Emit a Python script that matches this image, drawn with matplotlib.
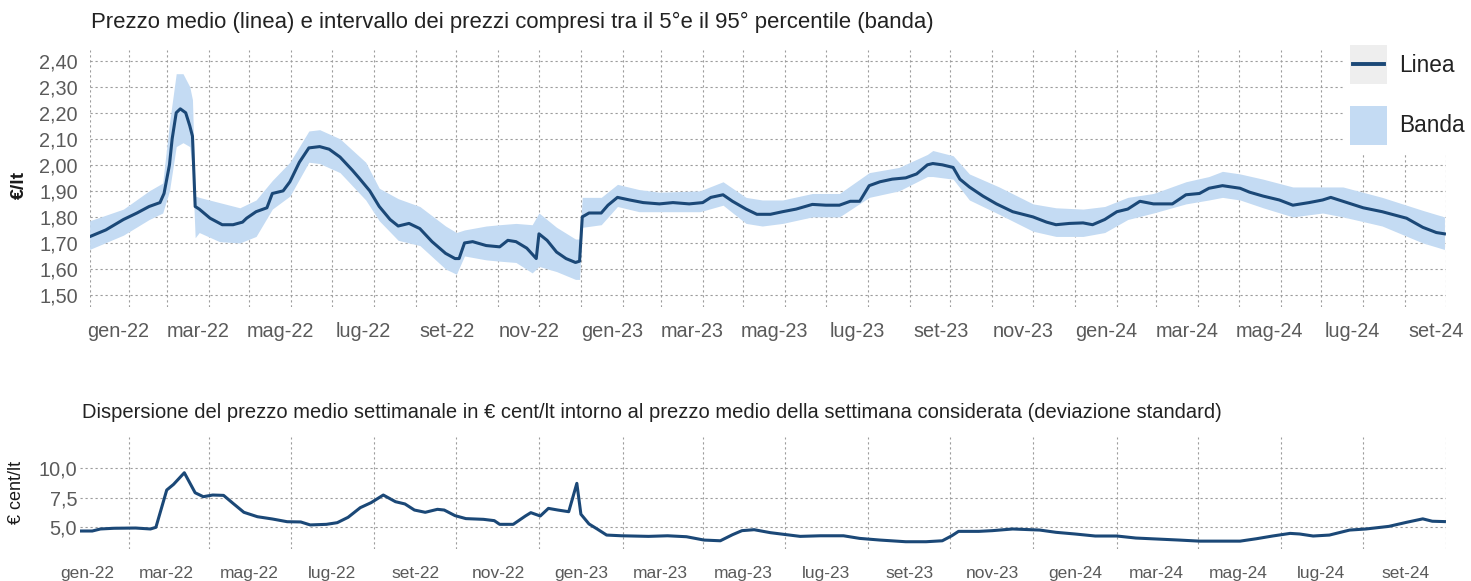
import pandas as pd
import matplotlib
matplotlib.use("Agg")
import matplotlib.pyplot as plt
from matplotlib.patches import Patch, Rectangle
from matplotlib.lines import Line2D

plt.rcParams['font.family'] = ['Liberation Sans', 'DejaVu Sans']

# prezzo medio settimanale (linea), €/lt
price_dates = ['2022-01-03', '2022-01-15', '2022-01-28', '2022-02-07', '2022-02-16', '2022-02-24',
               '2022-02-27', '2022-03-03', '2022-03-05', '2022-03-08', '2022-03-11', '2022-03-15',
               '2022-03-18', '2022-03-20', '2022-03-22', '2022-03-25', '2022-04-02', '2022-04-11',
               '2022-04-19', '2022-04-26', '2022-04-29', '2022-05-06', '2022-05-14', '2022-05-18',
               '2022-05-26', '2022-05-31', '2022-06-07', '2022-06-14', '2022-06-22', '2022-06-29',
               '2022-07-07', '2022-07-16', '2022-07-21', '2022-07-29', '2022-08-05', '2022-08-13',
               '2022-08-19', '2022-08-27', '2022-09-04', '2022-09-13', '2022-09-23', '2022-09-30',
               '2022-10-03', '2022-10-07', '2022-10-13', '2022-10-23', '2022-11-02', '2022-11-08',
               '2022-11-14', '2022-11-22', '2022-11-29', '2022-12-01', '2022-12-07', '2022-12-14',
               '2022-12-21', '2022-12-28', '2022-12-31', '2023-01-02', '2023-01-07', '2023-01-16',
               '2023-01-21', '2023-01-28', '2023-02-06', '2023-02-16', '2023-02-28', '2023-03-10',
               '2023-03-22', '2023-04-01', '2023-04-07', '2023-04-16', '2023-04-23', '2023-05-03',
               '2023-05-11', '2023-05-21', '2023-05-30', '2023-06-09', '2023-06-21', '2023-07-01',
               '2023-07-11', '2023-07-19', '2023-07-26', '2023-08-02', '2023-08-10', '2023-08-19',
               '2023-08-29', '2023-09-06', '2023-09-14', '2023-09-18', '2023-09-25', '2023-10-03',
               '2023-10-08', '2023-10-15', '2023-10-25', '2023-11-04', '2023-11-16', '2023-12-01',
               '2023-12-11', '2023-12-18', '2023-12-28', '2024-01-07', '2024-01-14', '2024-01-23',
               '2024-02-01', '2024-02-09', '2024-02-18', '2024-02-28', '2024-03-13', '2024-03-23',
               '2024-04-02', '2024-04-09', '2024-04-19', '2024-05-02', '2024-05-09', '2024-05-19',
               '2024-05-31', '2024-06-10', '2024-06-22', '2024-07-02', '2024-07-08', '2024-07-17',
               '2024-08-01', '2024-08-15', '2024-09-02', '2024-09-14', '2024-09-24', '2024-09-30']
price = [1.724, 1.75, 1.79, 1.815, 1.84, 1.855,
         1.89, 2.00, 2.10, 2.20, 2.215, 2.20,
         2.15, 2.11, 1.84, 1.83, 1.795, 1.77,
         1.77, 1.78, 1.795, 1.82, 1.835, 1.89,
         1.90, 1.935, 2.01, 2.065, 2.07, 2.06,
         2.03, 1.98, 1.95, 1.90, 1.84, 1.79,
         1.765, 1.775, 1.755, 1.705, 1.66, 1.64,
         1.64, 1.70, 1.705, 1.69, 1.685, 1.71,
         1.705, 1.68, 1.64, 1.735, 1.71, 1.665,
         1.64, 1.625, 1.63, 1.80, 1.815, 1.815,
         1.845, 1.875, 1.865, 1.855, 1.85, 1.855,
         1.85, 1.855, 1.875, 1.885, 1.86, 1.83,
         1.81, 1.81, 1.82, 1.83, 1.848, 1.845,
         1.845, 1.86, 1.86, 1.92, 1.935, 1.945,
         1.95, 1.965, 2.00, 2.005, 2.00, 1.99,
         1.945, 1.915, 1.88, 1.85, 1.82, 1.80,
         1.78, 1.77, 1.775, 1.777, 1.77, 1.79,
         1.82, 1.83, 1.86, 1.85, 1.85, 1.885,
         1.89, 1.91, 1.92, 1.91, 1.895, 1.88,
         1.865, 1.845, 1.855, 1.865, 1.875, 1.86,
         1.835, 1.82, 1.795, 1.76, 1.74, 1.735]

# 5° e 95° percentile (banda)
band_dates = ['2022-01-03', '2022-01-28', '2022-02-16', '2022-02-26', '2022-03-03', '2022-03-08',
              '2022-03-13', '2022-03-18', '2022-03-20', '2022-03-22', '2022-03-25', '2022-04-09',
              '2022-04-24', '2022-05-06', '2022-05-18', '2022-05-31', '2022-06-14', '2022-06-22',
              '2022-07-07', '2022-07-26', '2022-08-05', '2022-08-19', '2022-09-04', '2022-09-23',
              '2022-10-01', '2022-10-07', '2022-10-23', '2022-11-02', '2022-11-14', '2022-11-26',
              '2022-12-01', '2022-12-14', '2022-12-28', '2022-12-31', '2023-01-02', '2023-01-16',
              '2023-01-28', '2023-02-13', '2023-02-28', '2023-03-30', '2023-04-16', '2023-05-03',
              '2023-05-15', '2023-05-30', '2023-06-21', '2023-07-11', '2023-08-02', '2023-08-24',
              '2023-09-14', '2023-09-18', '2023-10-03', '2023-10-15', '2023-11-06', '2023-12-01',
              '2023-12-18', '2024-01-07', '2024-01-23', '2024-02-09', '2024-02-28', '2024-03-23',
              '2024-04-09', '2024-04-19', '2024-05-02', '2024-05-19', '2024-06-10', '2024-07-02',
              '2024-07-17', '2024-08-15', '2024-09-14', '2024-09-30']
band_high = [1.785, 1.83, 1.90, 1.93, 2.16, 2.35,
             2.35, 2.30, 2.25, 1.88, 1.875, 1.855,
             1.835, 1.865, 1.94, 2.01, 2.13, 2.135,
             2.10, 2.01, 1.91, 1.87, 1.84, 1.765,
             1.74, 1.75, 1.765, 1.77, 1.775, 1.77,
             1.815, 1.76, 1.715, 1.715, 1.875, 1.875,
             1.925, 1.905, 1.895, 1.90, 1.935, 1.875,
             1.865, 1.865, 1.89, 1.89, 1.97, 1.99,
             2.04, 2.055, 2.035, 1.965, 1.915, 1.85,
             1.835, 1.83, 1.84, 1.875, 1.89, 1.935,
             1.955, 1.975, 1.965, 1.945, 1.915, 1.915,
             1.915, 1.875, 1.825, 1.80]
band_low = [1.675, 1.73, 1.79, 1.815, 1.90, 2.07,
            2.085, 2.07, 1.98, 1.72, 1.74, 1.705,
            1.70, 1.725, 1.83, 1.88, 2.01, 2.005,
            1.97, 1.865, 1.785, 1.71, 1.69, 1.60,
            1.58, 1.65, 1.635, 1.63, 1.625, 1.585,
            1.61, 1.59, 1.56, 1.56, 1.76, 1.77,
            1.84, 1.82, 1.82, 1.82, 1.845, 1.775,
            1.765, 1.775, 1.80, 1.80, 1.875, 1.90,
            1.955, 1.955, 1.945, 1.865, 1.81, 1.745,
            1.725, 1.725, 1.74, 1.79, 1.815, 1.85,
            1.865, 1.875, 1.865, 1.835, 1.80, 1.815,
            1.80, 1.765, 1.70, 1.675]

# deviazione standard, € cent/lt
sd_dates = ['2021-12-27', '2022-01-05', '2022-01-11', '2022-01-21', '2022-02-06', '2022-02-17',
            '2022-02-21', '2022-03-01', '2022-03-06', '2022-03-14', '2022-03-22', '2022-03-28',
            '2022-04-04', '2022-04-12', '2022-04-19', '2022-04-27', '2022-05-07', '2022-05-18',
            '2022-05-29', '2022-06-08', '2022-06-15', '2022-06-27', '2022-07-05', '2022-07-13',
            '2022-07-22', '2022-07-30', '2022-08-08', '2022-08-17', '2022-08-24', '2022-08-31',
            '2022-09-08', '2022-09-17', '2022-09-22', '2022-09-30', '2022-10-08', '2022-10-21',
            '2022-10-29', '2022-11-02', '2022-11-12', '2022-11-21', '2022-11-25', '2022-12-02',
            '2022-12-08', '2022-12-15', '2022-12-23', '2022-12-29', '2023-01-01', '2023-01-07',
            '2023-01-13', '2023-01-20', '2023-01-31', '2023-02-20', '2023-03-06', '2023-03-20',
            '2023-04-02', '2023-04-14', '2023-04-23', '2023-04-30', '2023-05-09', '2023-05-21',
            '2023-06-02', '2023-06-12', '2023-06-27', '2023-07-14', '2023-07-26', '2023-08-10',
            '2023-08-29', '2023-09-13', '2023-09-25', '2023-10-02', '2023-10-07', '2023-10-22',
            '2023-11-01', '2023-11-16', '2023-12-06', '2023-12-18', '2024-01-01', '2024-01-16',
            '2024-02-01', '2024-02-15', '2024-03-03', '2024-03-18', '2024-04-02', '2024-04-17',
            '2024-05-02', '2024-05-14', '2024-05-26', '2024-06-08', '2024-06-15', '2024-06-25',
            '2024-07-07', '2024-07-22', '2024-08-03', '2024-08-20', '2024-09-02', '2024-09-14',
            '2024-09-21', '2024-09-30']
sd = [4.69, 4.69, 4.86, 4.92, 4.94, 4.86,
      5.00, 8.13, 8.60, 9.58, 7.90, 7.57,
      7.71, 7.68, 7.01, 6.26, 5.89, 5.70,
      5.47, 5.45, 5.20, 5.25, 5.39, 5.84,
      6.65, 7.07, 7.71, 7.15, 6.96, 6.45,
      6.26, 6.51, 6.45, 5.98, 5.73, 5.67,
      5.56, 5.25, 5.25, 5.95, 6.23, 5.95,
      6.59, 6.45, 6.31, 8.69, 6.10, 5.28,
      4.86, 4.35, 4.29, 4.24, 4.29, 4.21,
      3.93, 3.87, 4.38, 4.72, 4.80, 4.55,
      4.38, 4.24, 4.29, 4.29, 4.07, 3.93,
      3.79, 3.79, 3.87, 4.29, 4.66, 4.66,
      4.72, 4.86, 4.77, 4.58, 4.44, 4.27,
      4.27, 4.10, 4.01, 3.93, 3.84, 3.84,
      3.84, 4.04, 4.27, 4.49, 4.44, 4.27,
      4.35, 4.77, 4.86, 5.08, 5.42, 5.71,
      5.51, 5.48]

month_labels = ['gen-22', 'mar-22', 'mag-22', 'lug-22', 'set-22', 'nov-22',
                'gen-23', 'mar-23', 'mag-23', 'lug-23', 'set-23', 'nov-23',
                'gen-24', 'mar-24', 'mag-24', 'lug-24', 'set-24']
price_yticks = [1.5, 1.6, 1.7, 1.8, 1.9, 2.0, 2.1, 2.2, 2.3, 2.4]
sd_yticks = [5.0, 7.5, 10.0]

LINE = '#1b4877'
BAND = '#c4dbf3'
GRID = '#9c9c9c'
TICK = '#5a5a5a'
W, H = 1471, 581

price_dates = pd.to_datetime(price_dates)
band_dates = pd.to_datetime(band_dates)
sd_dates = pd.to_datetime(sd_dates)
label_months = pd.date_range('2022-01-01', '2024-09-01', freq='2MS')
grid_months = pd.date_range('2022-01-01', '2024-10-01', freq='MS')


class LineOnSquare:
    # simbolo di legenda: quadrato grigio chiaro con la linea al centro
    def legend_artist(self, legend, orig_handle, fontsize, handlebox):
        x0, y0 = -handlebox.xdescent, -handlebox.ydescent
        w, h = handlebox.width, handlebox.height
        tr = handlebox.get_transform()
        sq = Rectangle((x0, y0), w, h, facecolor='#eeeeee', edgecolor='none', transform=tr)
        ln = Line2D([x0 + 0.08 * w, x0 + 0.92 * w], [y0 + h / 2, y0 + h / 2],
                    color=orig_handle.get_color(), lw=orig_handle.get_linewidth(), transform=tr)
        handlebox.add_artist(sq)
        handlebox.add_artist(ln)
        return sq


fig = plt.figure(figsize=(W / 100, H / 100), dpi=100)
ax1 = fig.add_axes([89.6 / W, 1 - 307 / H, 1356.2 / W, 257 / H])
ax2 = fig.add_axes([80.1 / W, 1 - 549 / H, 1365.7 / W, 112 / H])


def style(ax, pady):
    for s in ax.spines.values():
        s.set_visible(False)
    ax.tick_params(axis='both', which='both', length=0, labelsize=14.3, labelcolor=TICK)
    ax.tick_params(axis='y', pad=pady)
    ax.grid(True, which='minor', axis='x', color=GRID, lw=0.8, ls=(0, (2, 2.5)))
    ax.grid(True, which='major', axis='y', color=GRID, lw=0.8, ls=(0, (2, 2.5)))
    ax.grid(False, which='major', axis='x')


# grafico superiore
ax1.fill_between(band_dates, band_low, band_high, color=BAND, lw=0, zorder=2)
ax1.plot(price_dates, price, color=LINE, lw=2.2, zorder=3)
ax1.set_xlim(pd.Timestamp('2022-01-03'), pd.Timestamp('2024-10-01'))
ax1.set_ylim(1.454, 2.441)
ax1.set_yticks(price_yticks)
ax1.set_yticklabels([f'{v:.2f}'.replace('.', ',') for v in price_yticks])
ax1.set_xticks(label_months + pd.Timedelta(days=23))
ax1.set_xticklabels(month_labels)
ax1.set_xticks(list(grid_months[1:]) + [pd.Timestamp('2022-01-03')], minor=True)
style(ax1, 8.4)
ax1.tick_params(axis='x', pad=11)
ax1.set_ylabel('€/lt', fontsize=14, fontweight='bold', color='#1a1a1a')
ax1.yaxis.set_label_coords(-0.0454, 0.475)
fig.text(91 / W, 1 - 22 / H, 'Prezzo medio (linea) e intervallo dei prezzi compresi tra il 5°e il 95° percentile (banda)',
         fontsize=15.9, color='#222222', va='center', ha='left')

line_handle = Line2D([], [], color=LINE, lw=2.8)
band_handle = Patch(facecolor=BAND, edgecolor='none')
leg = ax1.legend([line_handle, band_handle], ['Linea', 'Banda'], handler_map={line_handle: LineOnSquare()},
                 loc='upper left', bbox_to_anchor=(1343 / W, 1 - 38 / H), bbox_transform=fig.transFigure,
                 frameon=True, facecolor='white', edgecolor='white', framealpha=1, fancybox=False,
                 fontsize=16.3, handlelength=1.65, handleheight=2.3, handletextpad=0.55,
                 labelspacing=0.95, borderpad=0.3, borderaxespad=0)
for t in leg.get_texts():
    t.set_color('#222222')

# grafico inferiore
ax2.plot(sd_dates, sd, color=LINE, lw=2.2, zorder=3)
ax2.set_xlim(pd.Timestamp('2021-12-27'), pd.Timestamp('2024-10-01'))
ax2.set_ylim(3.18, 12.58)
ax2.set_yticks(sd_yticks)
ax2.set_yticklabels([f'{v:.1f}'.replace('.', ',') for v in sd_yticks])
ax2.set_xticks(label_months)
ax2.set_xticklabels(month_labels)
ax2.set_xticks(grid_months, minor=True)
style(ax2, 2.2)
ax2.tick_params(axis='x', pad=12, labelsize=12.5)
ax2.set_ylabel('€ cent/lt', fontsize=13, color='#1a1a1a')
ax2.yaxis.set_label_coords(-0.0403, 0.509)
fig.text(82 / W, 1 - 412 / H,
         'Dispersione del prezzo medio settimanale in € cent/lt intorno al prezzo medio della settimana considerata (deviazione standard)',
         fontsize=14.5, color='#222222', va='center', ha='left')

fig.savefig('out.png', dpi=100, facecolor='white')
